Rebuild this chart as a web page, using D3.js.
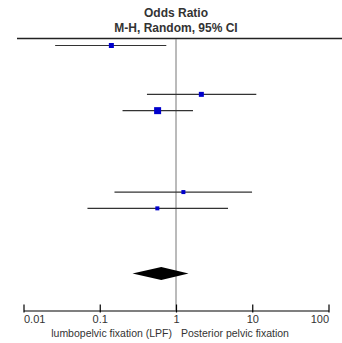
<!DOCTYPE html>
<html>
<head>
<meta charset="UTF-8">
<script src="https://d3js.org/d3.v7.min.js"></script>
<style>
  body { margin: 0; background: #fff; }
  svg text { font-family: "Liberation Sans Narrow", "Arial Narrow", "Liberation Sans", sans-serif; fill: #333; }
</style>
</head>
<body>
<div id="chart"></div>
<script>
// study rows (row index in the plot), odds ratios and 95% CI
const rows = [0, 3, 4, 9, 10];
const or = [0.142, 2.15, 0.574, 1.25, 0.569];
const lower = [0.026, 0.416, 0.199, 0.156, 0.069];
const upper = [0.746, 11.3, 1.67, 9.94, 4.81];
const weights = [5, 5, 7, 4, 4];
// pooled estimate
const totalRow = 14;
const totalOr = 0.641;
const totalLower = 0.269;
const totalUpper = 1.46;
const ticks = [0.01, 0.1, 1, 10, 100];
const tickLabels = ['0.01', '0.1', '1', '10', '100'];

const width = 342, height = 343;
const svg = d3.select('#chart').append('svg')
  .attr('width', width).attr('height', height);

const x = d3.scaleLog().domain([0.01, 100]).range([23.5, 328.5]);
const y = d3.scaleLinear().domain([0, 14]).range([45.5, 273.5]);
const axisY = 310.5;

// header
svg.append('text').attr('x', 176).attr('y', 17).attr('text-anchor', 'middle')
  .style('font-size', '12px').style('font-weight', 'bold').text('Odds Ratio');
svg.append('text').attr('x', 176).attr('y', 32).attr('text-anchor', 'middle')
  .style('font-size', '12px').style('font-weight', 'bold').text('M-H, Random, 95% CI');
svg.append('line').attr('x1', 17).attr('x2', 342).attr('y1', 38.5).attr('y2', 38.5)
  .attr('stroke', '#222').attr('stroke-width', 1.3);

// line of no effect
svg.append('line').attr('x1', x(1)).attr('x2', x(1)).attr('y1', 39).attr('y2', axisY)
  .attr('stroke', '#777').attr('stroke-width', 1);

const data = rows.map((r, i) => ({ r, or: or[i], lo: lower[i], hi: upper[i], w: weights[i] }));

svg.selectAll('.ci').data(data).enter().append('line')
  .attr('x1', d => x(d.lo)).attr('x2', d => x(d.hi))
  .attr('y1', d => y(d.r)).attr('y2', d => y(d.r))
  .attr('stroke', '#333').attr('stroke-width', 1.2);

svg.selectAll('.pt').data(data).enter().append('rect')
  .attr('x', d => x(d.or) - d.w / 2).attr('y', d => y(d.r) - d.w / 2)
  .attr('width', d => d.w).attr('height', d => d.w)
  .attr('fill', '#0000cc');

// diamond
const ty = y(totalRow);
svg.append('path')
  .attr('d', `M${x(totalLower)},${ty} L${x(totalOr)},${ty - 6.5} L${x(totalUpper)},${ty} L${x(totalOr)},${ty + 6.5} Z`)
  .attr('fill', '#000');

// axis
const axis = svg.append('g').attr('transform', `translate(0,${axisY})`)
  .call(d3.axisBottom(x).tickValues(ticks).tickFormat((d, i) => tickLabels[i]).tickSize(0).tickSizeOuter(0));
axis.select('.domain').attr('stroke', '#000').attr('stroke-width', 1.2);
axis.selectAll('.tick line').attr('y1', -6).attr('y2', 2).attr('stroke', '#000').attr('stroke-width', 1.2);
axis.selectAll('.tick text').attr('y', 5).style('font-size', '11px')
  .attr('text-anchor', (d, i) => i === 0 ? 'start' : (i === ticks.length - 1 ? 'end' : 'middle'));

svg.append('text').attr('x', x(1) - 4).attr('y', 337).attr('text-anchor', 'end')
  .style('font-size', '10.5px').text('lumbopelvic fixation (LPF)');
svg.append('text').attr('x', x(1) + 5).attr('y', 337).attr('text-anchor', 'start')
  .style('font-size', '10.5px').text('Posterior pelvic fixation');
</script>
</body>
</html>
